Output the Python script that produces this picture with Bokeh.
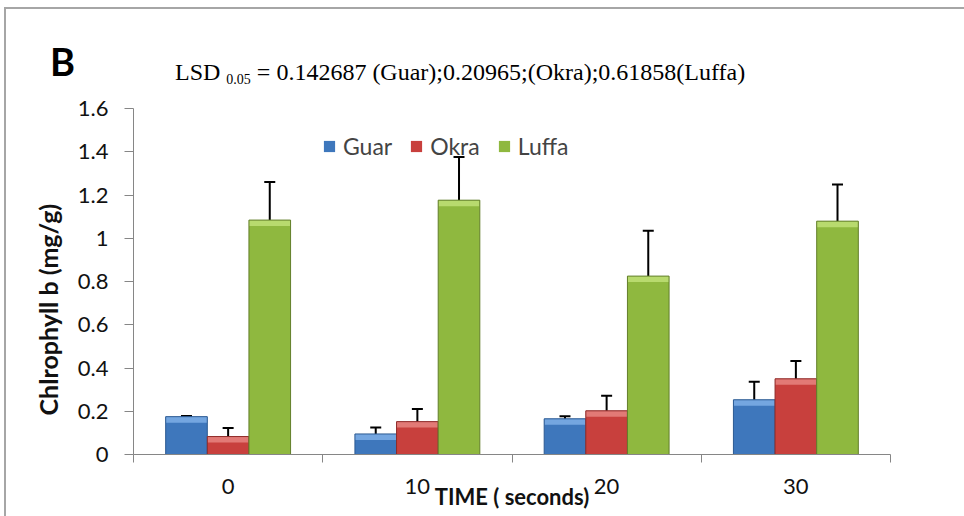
import numpy as np
from bokeh.plotting import figure
from bokeh.layouts import column
from bokeh.models import (ColumnDataSource, Whisker, TeeHead, FixedTicker,
                          CustomJSTickFormatter, Range1d, Div)
from bokeh.embed import file_html
from bokeh.resources import INLINE

# ---- data ----
times = ["0", "10", "20", "30"]
series = ["Guar", "Okra", "Luffa"]
guar = [0.175, 0.095, 0.165, 0.253]
guar_err = [0.003, 0.030, 0.012, 0.083]
okra = [0.083, 0.152, 0.202, 0.350]
okra_err = [0.040, 0.058, 0.070, 0.082]
luffa = [1.084, 1.176, 0.825, 1.079]
luffa_err = [0.176, 0.200, 0.210, 0.170]
y_ticks = [0, 0.2, 0.4, 0.6, 0.8, 1.0, 1.2, 1.4, 1.6]
panel_letter = "B"
lsd_text = "= 0.142687 (Guar);0.20965;(Okra);0.61858(Luffa)"

values = [guar, okra, luffa]
errors = [guar_err, okra_err, luffa_err]
fills = ["#3E77BC", "#C8403D", "#8FB83F"]
tops = ["#74A6E0", "#E27A76", "#B8DA6E"]
lines = ["#2C5A92", "#8E2A28", "#627E2A"]
offsets = [-0.22, 0.0, 0.22]

header_html = (
    '<div style="position:relative;width:958px;height:80px;">'
    '<span style="position:absolute;left:44px;top:33px;line-height:1;white-space:nowrap;'
    'font-family:Lato;font-weight:bold;font-size:38px;color:#000;">' + panel_letter + '</span>'
    '<span style="position:absolute;left:169px;top:51px;line-height:1;white-space:nowrap;'
    'font-family:\'Liberation Serif\';font-size:24px;color:#000;">LSD '
    '<span style="font-size:14px;vertical-align:-4px;">0.05</span> ' + lsd_text + '</span>'
    '</div>'
)
header = Div(text=header_html, width=958, height=80, margin=0)

p = figure(width=958, height=427, output_backend="svg", toolbar_location=None,
           x_range=Range1d(0, 4), y_range=Range1d(0, 1.6), title=None,
           min_border_left=127, min_border_right=74, min_border_top=19,
           min_border_bottom=62)
p.margin = 0
p.outline_line_color = None
p.xgrid.visible = False
p.ygrid.visible = False

bevel = 6 / 216.5  # height of the lighter top band, in data units (about 6 px)
centers = np.arange(len(times)) + 0.5
for name, vals, errs, fc, tc, lc, off in zip(series, values, errors, fills, tops, lines, offsets):
    v = np.array(vals)
    e = np.array(errs)
    src = ColumnDataSource(dict(x=centers + off, top=v, band=v - bevel,
                                upper=v + e, lower=v - e))
    p.vbar(x="x", top="top", width=0.22, source=src, fill_color=fc,
           line_color=None, legend_label=name)
    p.vbar(x="x", top="top", bottom="band", width=0.22, source=src, fill_color=tc,
           line_color=None)
    p.vbar(x="x", top="top", width=0.22, source=src, fill_color=None,
           line_color=lc, line_width=1)
    w = Whisker(source=src, base="x", upper="upper", lower="lower",
                line_color="black", line_width=2,
                upper_head=TeeHead(size=11, line_width=2, line_color="black"),
                lower_head=TeeHead(size=11, line_width=2, line_color="black"))
    p.add_layout(w)

# y axis
yax = p.yaxis[0]
yax.ticker = FixedTicker(ticks=y_ticks)
yax.formatter = CustomJSTickFormatter(code="return tick.toFixed(1).replace(/\\.0$/, '')")
yax.axis_line_color = "#868686"
yax.major_tick_line_color = "#868686"
yax.major_tick_in = 0
yax.major_tick_out = 9
yax.major_label_standoff = 16
yax.major_label_text_font = "Lato"
yax.major_label_text_font_size = "22px"
yax.major_label_text_color = "#111111"
yax.axis_label = "Chlrophyll b (mg/g)\u2003\u2003\u2003"
yax.axis_label_text_font = "Lato"
yax.axis_label_text_font_style = "bold"
yax.axis_label_text_font_size = "25px"
yax.axis_label_text_color = "#111111"
yax.axis_label_standoff = 12

# x axis
xax = p.xaxis[0]
xax.ticker = FixedTicker(ticks=list(centers), minor_ticks=list(range(len(times) + 1)))
xax.formatter = CustomJSTickFormatter(args=dict(cats=times), code="return cats[Math.floor(tick)]")
xax.axis_line_color = "#868686"
xax.major_tick_in = 0
xax.major_tick_out = 0
xax.minor_tick_in = 0
xax.minor_tick_out = 8
xax.minor_tick_line_color = "#868686"
xax.major_label_standoff = 16
xax.major_label_text_font = "Lato"
xax.major_label_text_font_size = "22px"
xax.major_label_text_color = "#111111"
xax.axis_label = "TIME ( seconds)"
xax.axis_label_text_font = "Lato"
xax.axis_label_text_font_style = "bold"
xax.axis_label_text_font_size = "22px"
xax.axis_label_text_color = "#111111"
xax.axis_label_standoff = -14

# legend
lg = p.legend[0]
lg.location = (189, 294)
lg.orientation = "horizontal"
lg.label_text_font = "Lato"
lg.label_text_font_size = "23px"
lg.glyph_width = 14
lg.glyph_height = 14
lg.spacing = 17
lg.label_standoff = 7
lg.padding = 0
lg.margin = 0
lg.background_fill_alpha = 0
lg.border_line_alpha = 0

layout = column(header, p, spacing=0)
layout.styles = {"margin-left": "4px", "margin-top": "7px",
                 "border-left": "2px solid #a6a6a6", "border-top": "2px solid #a6a6a6"}

open("out.html", "w").write(file_html(layout, INLINE))
